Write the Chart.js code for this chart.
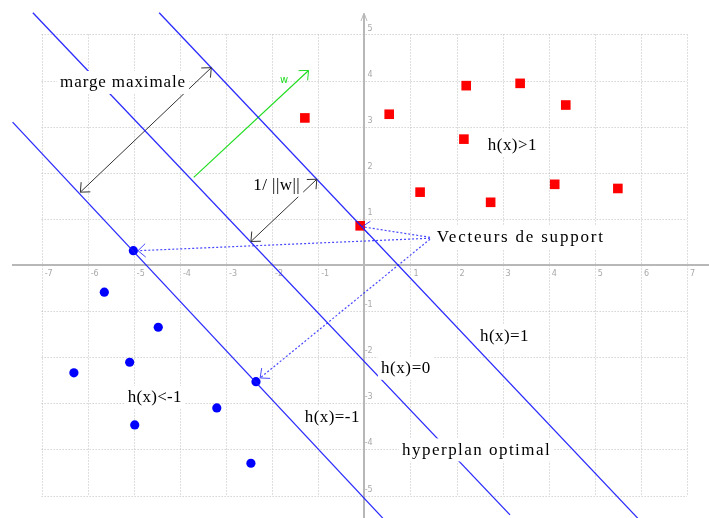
<!DOCTYPE html>
<html>
<head>
<meta charset="utf-8">
<script src="https://cdn.jsdelivr.net/npm/chart.js@4.4.0/dist/chart.umd.min.js"></script>
<style>
html, body { margin: 0; padding: 0; background: #fff; }
#wrap { width: 709px; height: 518px; position: relative; }
</style>
</head>
<body>
<div id="wrap"><canvas id="svmChart"></canvas></div>
<script>
// class +1 (red squares), last one is the support vector
const posX = [-1.29, 0.54, 2.21, 3.38, 4.37, 2.16, 1.21, 2.74, 4.13, 5.50, -0.09];
const posY = [3.19, 3.27, 3.89, 3.94, 3.47, 2.73, 1.58, 1.36, 1.75, 1.66, 0.85];

// class -1 (blue dots), last two are support vectors
const negX = [-5.64, -4.47, -5.09, -6.30, -3.20, -4.98, -2.46, -2.35, -5.01];
const negY = [-0.59, -1.35, -2.11, -2.34, -3.10, -3.47, -4.30, -2.53, 0.31];

// h(x)=1, h(x)=0, h(x)=-1 (end points)
const hPlusX = [-4.45, 5.93], hPlusY = [5.47, -5.49];
const hZeroX = [-7.19, 3.16], hZeroY = [5.47, -5.42];
const hMinusX = [-7.63, 0.40], hMinusY = [3.10, -5.49];

// arrows: marge maximale, 1/||w||, w
const margeX = [-6.16, -3.32], margeY = [1.58, 4.28];
const normX = [-2.46, -1.03], normY = [0.51, 1.86];
const wX = [-3.70, -1.21], wY = [1.90, 4.22];

// dotted pointers from "Vecteurs de support"
const svRedX = [1.425, -0.05], svRedY = [0.60, 0.83];
const svLeftX = [1.425, -4.91], svLeftY = [0.58, 0.31];
const svLowX = [1.425, -2.26], svLowY = [0.56, -2.45];

const xTicks = [-7, -6, -5, -4, -3, -2, -1, 0, 1, 2, 3, 4, 5, 6, 7];
const yTicks = [-5, -4, -3, -2, -1, 0, 1, 2, 3, 4, 5];

const noteText = ['marge maximale', '1/ ||w||', 'h(x)>1', 'Vecteurs de support', 'h(x)<-1',
                  'h(x)=-1', 'h(x)=1', 'h(x)=0', 'hyperplan optimal'];
const noteX = [-6.60, -2.41, 2.68, 1.57, -5.13, -1.29, 2.51, 0.36, 0.82];
const noteY = [3.97, 1.74, 2.62, 0.61, -2.86, -3.28, -1.54, -2.23, -4.00];

function pts(xs, ys) {
    return xs.map((v, i) => ({ x: v, y: ys[i] }));
}

function segment(xs, ys, color, width, dash) {
    return {
        data: pts(xs, ys),
        showLine: true,
        borderColor: color,
        borderWidth: width,
        borderDash: dash || [],
        pointRadius: 0,
        fill: false
    };
}

const blueLine = 'rgba(20, 20, 255, 0.9)';
const dotted = 'rgba(40, 40, 255, 0.85)';

const datasets = [
    segment(hPlusX, hPlusY, blueLine, 1.3),
    segment(hZeroX, hZeroY, blueLine, 1.3),
    segment(hMinusX, hMinusY, blueLine, 1.3),
    segment(margeX, margeY, '#333', 1),
    segment(normX, normY, '#333', 1),
    segment(wX, wY, '#22dd22', 1.2),
    segment(svRedX, svRedY, dotted, 1.2, [2, 2]),
    segment(svLeftX, svLeftY, dotted, 1.2, [2, 2]),
    segment(svLowX, svLowY, dotted, 1.2, [2, 2]),
    {
        data: pts(posX, posY),
        pointStyle: 'rect',
        pointRadius: 6.8,
        backgroundColor: '#ff0000',
        borderColor: '#ff0000',
        borderWidth: 0
    },
    {
        data: pts(negX, negY),
        pointStyle: 'circle',
        pointRadius: 4.6,
        backgroundColor: '#0000ff',
        borderColor: '#0000ff',
        borderWidth: 0
    }
];

// which segment datasets get arrow heads, and where
const arrowHeads = [
    { ds: 3, ends: [0, 1], color: '#333' },
    { ds: 4, ends: [0, 1], color: '#333' },
    { ds: 5, ends: [1], color: '#22dd22' },
    { ds: 6, ends: [1], color: dotted },
    { ds: 7, ends: [1], color: dotted },
    { ds: 8, ends: [1], color: dotted }
];

// dotted grid and the two axes
const gridPlugin = {
    id: 'svmGrid',
    beforeDatasetsDraw(chart) {
        const { ctx, scales: { x, y } } = chart;
        ctx.save();
        ctx.strokeStyle = '#bfbfbf';
        ctx.lineWidth = 1;
        ctx.setLineDash([1, 2]);
        const top = y.getPixelForValue(5), bottom = y.getPixelForValue(-5);
        const left = x.getPixelForValue(-7), right = x.getPixelForValue(7);
        xTicks.forEach(v => {
            if (v === 0) return;
            const px = Math.round(x.getPixelForValue(v)) + 0.5;
            ctx.beginPath(); ctx.moveTo(px, top); ctx.lineTo(px, bottom); ctx.stroke();
        });
        yTicks.forEach(v => {
            if (v === 0) return;
            const py = Math.round(y.getPixelForValue(v)) + 0.5;
            ctx.beginPath(); ctx.moveTo(left, py); ctx.lineTo(right, py); ctx.stroke();
        });
        // axes
        ctx.setLineDash([]);
        ctx.strokeStyle = '#b8b8b8';
        ctx.lineWidth = 2;
        const ox = Math.round(x.getPixelForValue(0)), oy = Math.round(y.getPixelForValue(0));
        ctx.beginPath(); ctx.moveTo(12, oy); ctx.lineTo(chart.width, oy); ctx.stroke();
        ctx.beginPath(); ctx.moveTo(ox, 14); ctx.lineTo(ox, chart.height); ctx.stroke();
        ctx.lineWidth = 1;
        ctx.beginPath(); ctx.moveTo(ox - 3, 21); ctx.lineTo(ox, 13); ctx.lineTo(ox + 3, 21); ctx.stroke();
        ctx.restore();
    }
};

function drawHead(ctx, tip, from, color) {
    const ang = Math.atan2(tip.y - from.y, tip.x - from.x);
    const len = 10, spread = Math.PI / 4.3;
    ctx.strokeStyle = color;
    ctx.lineWidth = 1;
    ctx.setLineDash([]);
    ctx.beginPath();
    ctx.moveTo(tip.x - len * Math.cos(ang - spread), tip.y - len * Math.sin(ang - spread));
    ctx.lineTo(tip.x, tip.y);
    ctx.lineTo(tip.x - len * Math.cos(ang + spread), tip.y - len * Math.sin(ang + spread));
    ctx.stroke();
}

const labelPlugin = {
    id: 'svmLabels',
    afterDatasetsDraw(chart, args, opts) {
        const { ctx, scales: { x, y } } = chart;
        ctx.save();
        noteText.forEach((t, i) => {
            ctx.font = '17px "Liberation Serif", "Times New Roman", serif';
            ctx.letterSpacing = '0px';
            const raw = ctx.measureText(t).width;
            const w = opts.widths[i];
            const px = x.getPixelForValue(noteX[i]);
            const py = y.getPixelForValue(noteY[i]);
            ctx.fillStyle = '#fff';
            ctx.fillRect(px - 3, py - 11, w + 6, 23);
            ctx.letterSpacing = ((w - raw) / t.length) + 'px';
            ctx.fillStyle = '#000';
            ctx.textBaseline = 'middle';
            ctx.textAlign = 'left';
            ctx.fillText(t, px, py + 1);
        });
        // small green "w"
        ctx.letterSpacing = '0px';
        ctx.font = '10px "DejaVu Sans", sans-serif';
        ctx.fillStyle = '#22dd22';
        ctx.textBaseline = 'middle';
        ctx.fillText('w', x.getPixelForValue(-1.83), y.getPixelForValue(4.01));

        arrowHeads.forEach(a => {
            const meta = chart.getDatasetMeta(a.ds).data;
            a.ends.forEach(e => {
                const tip = meta[e], from = meta[1 - e];
                drawHead(ctx, tip, from, a.color);
            });
        });
        ctx.restore();
    }
};

// tick labels must not shrink the plot area
function noPadding(axis) {
    axis.paddingLeft = 0;
    axis.paddingRight = 0;
    axis.paddingTop = 0;
    axis.paddingBottom = 0;
}

window.onload = function() {
    const ctx = document.getElementById('svmChart').getContext('2d');
    new Chart(ctx, {
        type: 'scatter',
        data: { datasets: datasets },
        options: {
            responsive: true,
            maintainAspectRatio: false,
            animation: false,
            events: [],
            layout: { padding: 0, autoPadding: false },
            plugins: {
                legend: { display: false },
                tooltip: { enabled: false },
                svmLabels: { widths: [126, 47, 49, 168, 54, 55, 49, 50, 149] }
            },
            scales: {
                x: {
                    type: 'linear',
                    min: -7.903,
                    max: 7.477,
                    position: { y: 0 },
                    afterBuildTicks: axis => { axis.ticks = xTicks.map(v => ({ value: v })); },
                    afterFit: noPadding,
                    grid: { display: false, drawTicks: false },
                    border: { display: false },
                    ticks: {
                        autoSkip: false,
                        maxRotation: 0,
                        align: 'start',
                        labelOffset: 3,
                        padding: 4,
                        color: '#a8a8a8',
                        font: { family: 'DejaVu Sans', size: 8 },
                        callback: v => v === 0 ? '' : String(v)
                    }
                },
                y: {
                    type: 'linear',
                    min: -5.488,
                    max: 5.748,
                    // labels are right-aligned on this anchor, just right of the drawn axis
                    position: { x: 0.18 },
                    afterBuildTicks: axis => { axis.ticks = yTicks.map(v => ({ value: v })); },
                    afterFit: noPadding,
                    grid: { display: false, drawTicks: false },
                    border: { display: false },
                    ticks: {
                        autoSkip: false,
                        labelOffset: -6,
                        color: '#a8a8a8',
                        font: { family: 'DejaVu Sans', size: 8 },
                        callback: v => v === 0 ? '' : String(v)
                    }
                }
            }
        },
        plugins: [gridPlugin, labelPlugin]
    });
};
</script>
</body>
</html>
